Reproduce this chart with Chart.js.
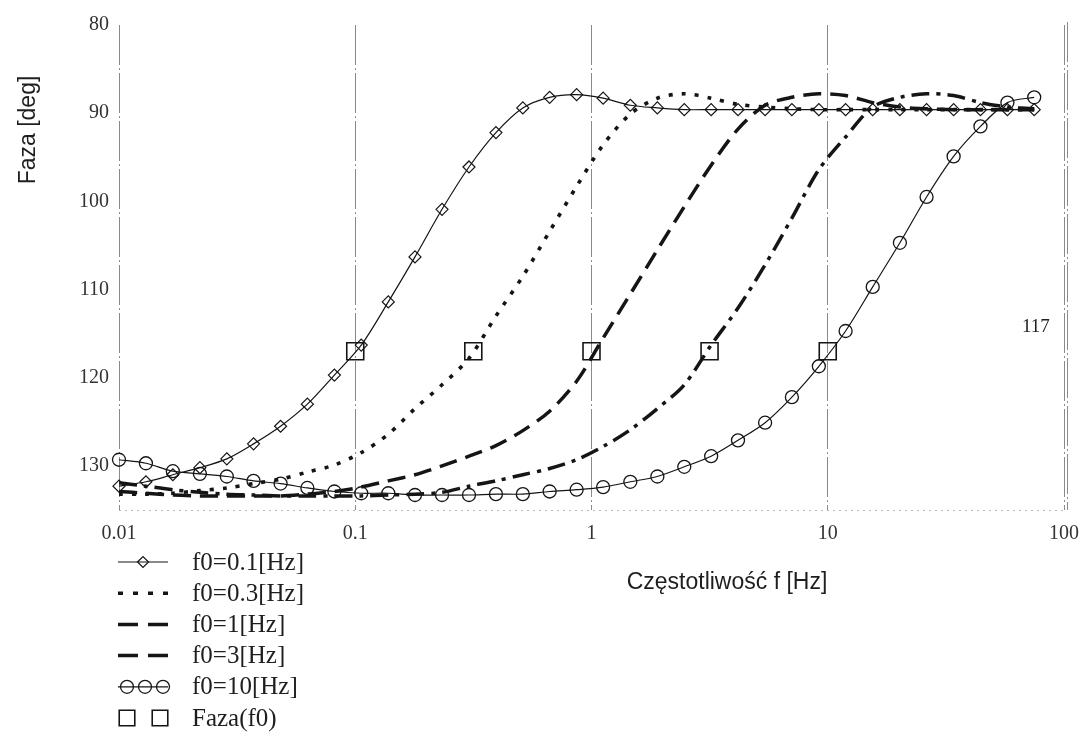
<!DOCTYPE html>
<html>
<head>
<meta charset="utf-8">
<script src="https://cdn.jsdelivr.net/npm/chart.js@4.4.1/dist/chart.umd.min.js"></script>
<style>
  html, body { margin: 0; padding: 0; background: #ffffff; }
  #wrap { width: 1086px; height: 733px; position: relative; }
</style>
</head>
<body>
<div id="wrap"><canvas id="c"></canvas></div>
<script>
// Frequency grid [Hz] shared by all curves
const freq = [0.01, 0.013, 0.0169, 0.022, 0.0286, 0.0371, 0.0483, 0.0627, 0.0816, 0.106,
              0.138, 0.179, 0.233, 0.303, 0.394, 0.512, 0.665, 0.865, 1.12, 1.46,
              1.90, 2.47, 3.21, 4.17, 5.43, 7.05, 9.17, 11.9, 15.5, 20.2,
              26.2, 34.1, 44.3, 57.6, 74.8];

// Phase [deg] for each cut-off frequency f0
const phaseF0_01 = [132.3, 131.8, 131.0, 130.2, 129.2, 127.5, 125.5, 123.0, 119.7, 116.3,
                    111.4, 106.3, 100.9, 96.1, 92.2, 89.4, 88.2, 87.9, 88.3, 89.1,
                    89.4, 89.6, 89.6, 89.6, 89.6, 89.6, 89.6, 89.6, 89.6, 89.6,
                    89.6, 89.6, 89.6, 89.6, 89.6];
const phaseF0_03 = [133.2, 133.2, 133.1, 132.8, 132.5, 132.0, 131.5, 130.7, 129.9, 128.5,
                    126.4, 123.5, 120.8, 117.8, 113.0, 108.5, 103.4, 98.3, 93.6, 90.1,
                    88.3, 87.8, 88.3, 89.0, 89.3, 89.5, 89.6, 89.6, 89.6, 89.6,
                    89.6, 89.6, 89.6, 89.6, 89.6];
const phaseF0_1  = [132.9, 133.1, 133.3, 133.4, 133.4, 133.4, 133.4, 133.2, 132.9, 132.4,
                    131.7, 131.0, 130.0, 128.9, 127.7, 126.0, 123.8, 120.4, 115.5, 110.5,
                    105.5, 100.6, 95.9, 91.8, 89.1, 88.2, 87.8, 88.0, 88.8, 89.3,
                    89.5, 89.6, 89.6, 89.6, 89.6];
const phaseF0_3  = [131.9, 132.3, 132.7, 133.0, 133.2, 133.3, 133.4, 133.4, 133.4, 133.4,
                    133.3, 133.2, 133.0, 132.3, 131.7, 131.0, 130.3, 129.3, 127.8, 125.9,
                    123.5, 120.8, 116.3, 112.1, 107.2, 101.9, 96.4, 92.7, 89.3, 88.2,
                    87.8, 88.0, 88.8, 89.3, 89.5];
const phaseF0_10 = [129.3, 129.7, 130.6, 130.9, 131.2, 131.7, 132.0, 132.5, 132.9, 133.1,
                    133.1, 133.3, 133.3, 133.3, 133.2, 133.2, 132.9, 132.7, 132.4, 131.8,
                    131.2, 130.1, 128.9, 127.1, 125.1, 122.2, 118.7, 114.7, 109.7, 104.7,
                    99.5, 94.9, 91.5, 88.8, 88.2];

// Phase at the cut-off frequency itself
const f0Values  = [0.1, 0.316, 1, 3.16, 10];
const phaseAtF0 = [117, 117, 117, 117, 117];
const phaseAtF0Label = '117';

const seriesLabels = ['f0=0.1[Hz]', 'f0=0.3[Hz]', 'f0=1[Hz]', 'f0=3[Hz]', 'f0=10[Hz]', 'Faza(f0)'];
const xTicks = [0.01, 0.1, 1, 10, 100];
const xTickLabels = ['0.01', '0.1', '1', '10', '100'];
const yTicks = [80, 90, 100, 110, 120, 130];
const xTitle = 'Częstotliwość f [Hz]';
const yTitle = 'Faza [deg]';

const toPoints = (ys) => freq.map((f, i) => ({ x: f, y: ys[i] }));
const INK = '#151515';

const datasets = [
  { label: seriesLabels[0], data: toPoints(phaseF0_01), borderColor: INK, borderWidth: 1.2,
    tension: 0.3, pointStyle: 'rectRot', pointRadius: 6, pointBorderWidth: 1.2,
    pointBorderColor: INK, pointBackgroundColor: 'rgba(0,0,0,0)', clip: false,
    legendKind: 'diamond' },
  { label: seriesLabels[1], data: toPoints(phaseF0_03), borderColor: INK, borderWidth: 3.6,
    borderDash: [4, 9], tension: 0.3, pointRadius: 0, legendKind: 'line', legendDash: [5, 10] },
  { label: seriesLabels[2], data: toPoints(phaseF0_1), borderColor: INK, borderWidth: 3.5,
    borderDash: [18, 9], tension: 0.3, pointRadius: 0, legendKind: 'line', legendDash: [20, 10] },
  { label: seriesLabels[3], data: toPoints(phaseF0_3), borderColor: INK, borderWidth: 3.5,
    borderDash: [18, 7, 4, 7], tension: 0.3, pointRadius: 0, legendKind: 'line', legendDash: [20, 10] },
  { label: seriesLabels[4], data: toPoints(phaseF0_10), borderColor: INK, borderWidth: 1.2,
    tension: 0.3, pointStyle: 'circle', pointRadius: 6.5, pointBorderWidth: 1.3,
    pointBorderColor: INK, pointBackgroundColor: 'rgba(0,0,0,0)', clip: false,
    legendKind: 'circles' },
  { label: seriesLabels[5], data: f0Values.map((f, i) => ({ x: f, y: phaseAtF0[i] })),
    showLine: false, pointStyle: 'rect', pointRadius: 12, pointBorderWidth: 1.6,
    pointBorderColor: INK, pointBackgroundColor: 'rgba(0,0,0,0)', clip: false,
    legendKind: 'squares' }
];

// Titles, value note, frame pieces and the legend block
const decorations = {
  id: 'decorations',
  afterDraw(chart) {
    const { ctx, chartArea: a, scales: { x, y } } = chart;
    const helpers = Chart.helpers;
    ctx.save();

    // bottom edge: faint dotted line
    ctx.strokeStyle = '#b5b5b5';
    ctx.lineWidth = 1;
    ctx.setLineDash([2, 4]);
    ctx.beginPath();
    ctx.moveTo(a.left, a.bottom + 0.5);
    ctx.lineTo(a.right, a.bottom + 0.5);
    ctx.stroke();

    // right edge: doubled line
    ctx.strokeStyle = '#8a8a8a';
    ctx.setLineDash([40, 3, 2, 3]);
    ctx.beginPath();
    ctx.moveTo(a.right + 3.5, a.top - 3);
    ctx.lineTo(a.right + 3.5, a.bottom);
    ctx.stroke();
    ctx.setLineDash([]);

    // axis titles
    ctx.fillStyle = '#1e1e1e';
    ctx.font = '23px "Liberation Sans", Arial, sans-serif';
    ctx.textAlign = 'center';
    ctx.textBaseline = 'middle';
    ctx.fillText(xTitle, 727, 583);
    ctx.save();
    ctx.translate(29, 130);
    ctx.rotate(-Math.PI / 2);
    ctx.fillText(yTitle, 0, 0);
    ctx.restore();

    // value note next to the f0 markers
    ctx.font = '19px "Liberation Serif", "Times New Roman", serif';
    ctx.fillStyle = '#222';
    ctx.fillText(phaseAtF0Label, x.getPixelForValue(76), y.getPixelForValue(117) - 24);

    // legend
    const lx0 = 118, lx1 = 168, textX = 192;
    chart.data.datasets.forEach((ds, i) => {
      const ry = 562 + i * 31.2;
      ctx.strokeStyle = INK;
      ctx.fillStyle = 'rgba(0,0,0,0)';
      if (ds.legendKind !== 'squares') {
        ctx.lineWidth = ds.borderWidth;
        ctx.setLineDash(ds.legendDash || []);
        ctx.beginPath();
        ctx.moveTo(lx0, ry);
        ctx.lineTo(lx1, ry);
        ctx.stroke();
        ctx.setLineDash([]);
      }
      const mark = (px, r) => helpers.drawPoint(ctx,
        { pointStyle: ds.pointStyle, radius: r, borderWidth: ds.pointBorderWidth, rotation: 0 }, px, ry);
      ctx.lineWidth = ds.pointBorderWidth || 1;
      if (ds.legendKind === 'diamond') mark(143, 5.5);
      if (ds.legendKind === 'circles') { mark(127, 6.5); mark(145, 6.5); mark(163, 6.5); }
      if (ds.legendKind === 'squares') { mark(127, 11); mark(160, 11); }

      ctx.fillStyle = '#1e1e1e';
      ctx.font = '25px "Liberation Serif", "Times New Roman", serif';
      ctx.textAlign = 'left';
      ctx.textBaseline = 'middle';
      ctx.fillText(ds.label, textX, ry + 1);
    });
    ctx.restore();
  }
};

new Chart(document.getElementById('c'), {
  type: 'line',
  data: { datasets },
  options: {
    responsive: true,
    maintainAspectRatio: false,
    animation: false,
    events: [],
    layout: { padding: { top: 25, right: 22, left: 0, bottom: 0 } },
    plugins: { legend: { display: false }, tooltip: { enabled: false } },
    scales: {
      x: {
        type: 'logarithmic',
        min: 0.01,
        max: 100,
        afterBuildTicks: (s) => { s.ticks = xTicks.map(v => ({ value: v })); },
        afterFit: (s) => { s.height = 223; s.paddingLeft = 0; s.paddingRight = 0; },
        ticks: {
          autoSkip: false, maxRotation: 0, padding: 12, color: '#333',
          font: { family: '"Liberation Serif", "Times New Roman", serif', size: 20 },
          callback: (v, i) => xTickLabels[i]
        },
        grid: { display: true, color: '#8a8a8a', lineWidth: 1, drawTicks: false },
        border: { display: false, dash: [40, 3, 2, 3] }
      },
      y: {
        type: 'linear',
        reverse: true,
        min: 80,
        max: 135,
        afterBuildTicks: (s) => { s.ticks = yTicks.map(v => ({ value: v })); },
        afterFit: (s) => { s.width = 119; },
        ticks: {
          padding: 10, color: '#333',
          font: { family: '"Liberation Serif", "Times New Roman", serif', size: 20 }
        },
        grid: { display: false, drawTicks: false },
        border: { display: false }
      }
    }
  },
  plugins: [decorations]
});
</script>
</body>
</html>
